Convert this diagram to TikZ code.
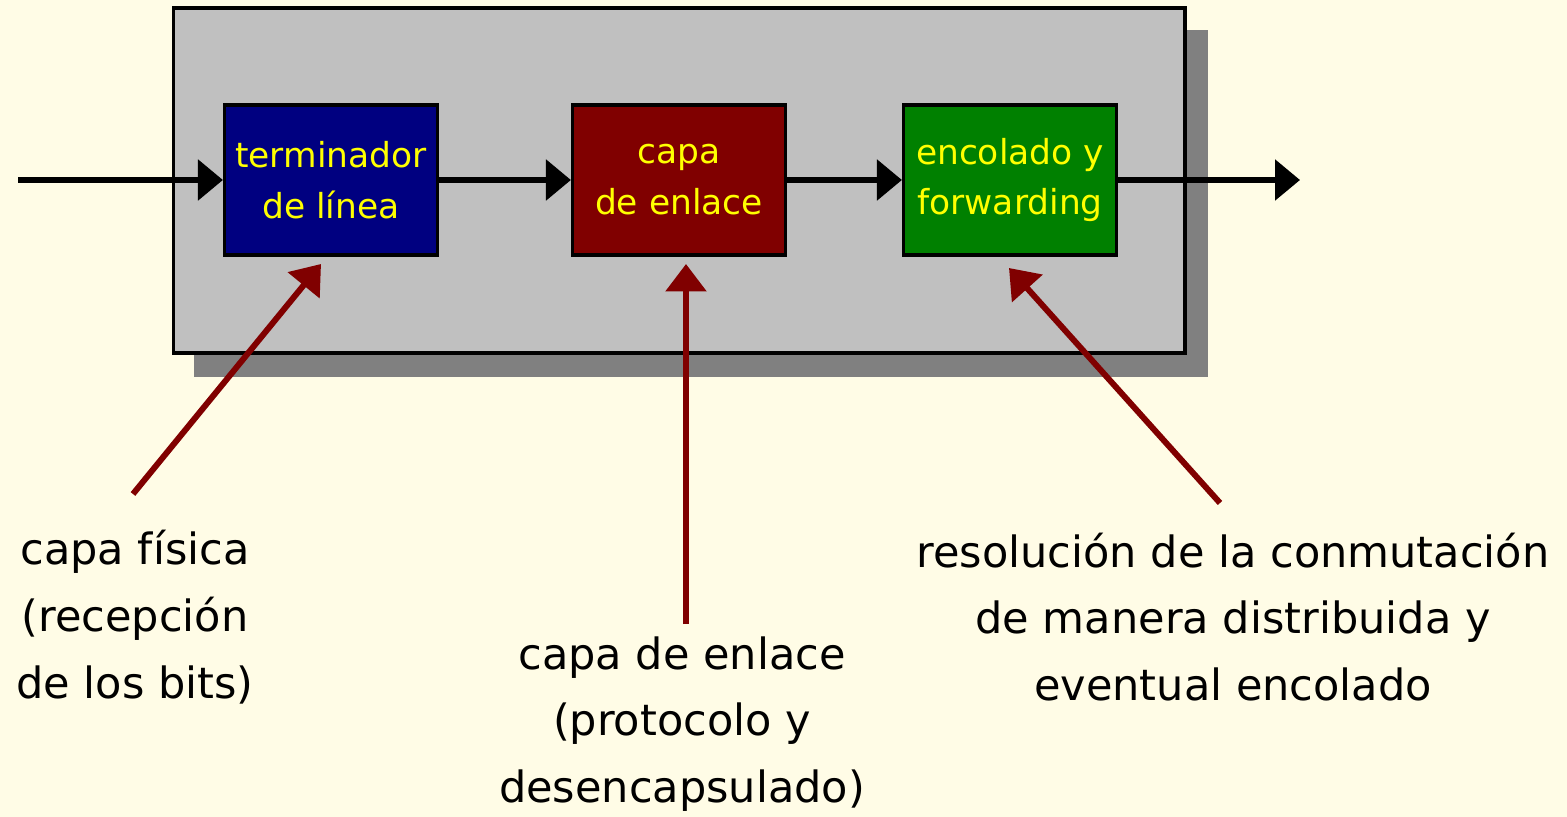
\documentclass[tikz,border=0pt]{standalone}
\usepackage{fontspec}
\setmainfont{DejaVu Sans}
\usetikzlibrary{arrows.meta}
\definecolor{bg}{RGB}{255,252,230}
\definecolor{panel}{RGB}{192,192,192}
\definecolor{shadow}{RGB}{128,128,128}
\definecolor{navyb}{RGB}{0,0,128}
\definecolor{maroonb}{RGB}{128,0,0}
\definecolor{greenb}{RGB}{0,128,0}
\definecolor{txtyellow}{RGB}{255,255,0}
\definecolor{darkred}{RGB}{128,0,0}
\tikzset{
  blockbox/.style={draw=black, line width=1.8pt, minimum width=4.26cm, minimum height=3.0cm, inner sep=0pt, text=txtyellow, align=center, font=\fontsize{19.6}{29}\selectfont},
  flow/.style={line width=3.2pt, -{Triangle[length=0.5cm,width=0.8cm]}},
  pointer/.style={draw=darkred, line width=3.4pt, -{Triangle[length=0.55cm,width=0.8cm]}},
  label/.style={align=center, font=\fontsize{24.5}{38}\selectfont, inner sep=0pt}
}
\begin{document}
\begin{tikzpicture}[x=0.02cm,y=-0.02cm]
\fill[bg] (0,0) rectangle (1567,817);
\useasboundingbox (0,0) rectangle (1567,817);
\fill[shadow] (194,30) rectangle (1208,377);
\node[draw=black, line width=1.8pt, fill=panel, minimum width=20.24cm, minimum height=6.9cm, inner sep=0pt] (panel) at (679,180.5) {};
\node[blockbox, fill=navyb] (term) at (331,180) {terminador\\de línea};
\node[blockbox, fill=maroonb] (link) at (679,180) {capa\\de enlace};
\node[blockbox, fill=greenb] (queue) at (1010,180) {encolado y\\forwarding};
\coordinate (in) at (18,180);
\coordinate (out) at (1300,180);
\draw[flow] (in) -- (term.west);
\draw[flow] (term.east) -- (link.west);
\draw[flow] (link.east) -- (queue.west);
\draw[flow] (queue.east) -- (out);
\node[label] (lphys) at (135,617) {capa física\\(recepción\\de los bits)};
\node[label] (llink) at (682,724) {capa de enlace\\(protocolo y\\desencapsulado)};
\node[label] (lres) at (1233,617) {resolución de la conmutación\\de manera distribuida y\\eventual encolado};
\coordinate (p1s) at (133,494);
\coordinate (p1e) at (321,264);
\coordinate (p2s) at (686,624);
\coordinate (p2e) at (686,264);
\coordinate (p3s) at (1220,503);
\coordinate (p3e) at (1009,268);
\draw[pointer] (p1s) -- (p1e);
\draw[pointer] (p2s) -- (p2e);
\draw[pointer] (p3s) -- (p3e);
\end{tikzpicture}
\end{document}
